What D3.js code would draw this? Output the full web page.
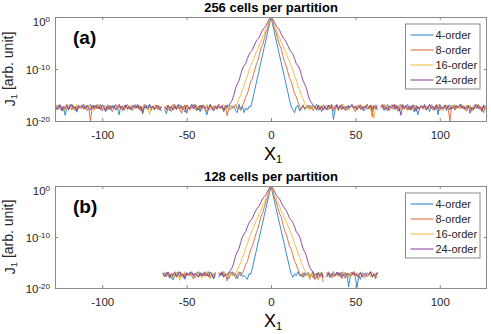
<!DOCTYPE html>
<html>
<head>
<meta charset="utf-8">
<script src="https://cdn.jsdelivr.net/npm/d3@7"></script>
<style>
  body { margin: 0; background: #fff; }
  svg, svg text { font-family: Arial, "Liberation Sans", Helvetica, sans-serif; }
  .axis path.domain { display: none; }
  .axis line { stroke: #8a8a8a; }
  .axis text { fill: #262626; font-size: 11.5px; }
  .frame { fill: none; stroke: #8a8a8a; stroke-width: 1; }
  .series { fill: none; stroke-width: 0.9; stroke-linejoin: round; }
  .legend-box { fill: #fff; stroke: #8a8a8a; stroke-width: 1; }
  .legend text { font-size: 11px; fill: #262626; }
</style>
</head>
<body>
<svg id="chart" width="491" height="334"></svg>
<script>
const seriesNames = ["4-order", "8-order", "16-order", "24-order"];
const seriesColors = ["#1f80c8", "#dc6330", "#edb83a", "#86399a"];
const xTicks = [-100, -50, 0, 50, 100];
const yTickExponents = [-20, -10, 0];
const panelTitles = ["256 cells per partition", "128 cells per partition"];
const panelTags = ["(a)", "(b)"];
const firstCellA = -128;
const firstCellB = -64;

// log10(J1) per cell, panel (a), 256 cells from x = -128
const a4 = [
  -17.0,-17.8,-16.9,-17.5,-18.1,-17.2,-18.9,-17.6,
  -17.4,-16.8,-17.9,-17.1,-17.6,-18.3,-17.0,-17.3,
  -16.9,-17.5,-17.2,-18.0,-17.3,-16.8,-17.7,-17.1,
  -17.7,-17.0,-17.4,-16.8,-17.9,-17.3,-18.2,-16.9,
  -17.2,-17.9,-17.0,-17.6,-16.8,-17.4,-18.8,-17.1,
  -18.0,-17.1,-16.9,-17.7,-17.3,-17.9,-17.0,-17.5,
  -17.3,-16.8,-17.6,-17.1,-18.2,-17.4,-16.9,-17.8,
  -16.8,-17.6,-17.3,-17.9,-17.0,-17.5,-17.2,-18.1,
  null,-17.8,-18.6,-17.5,-18.1,-17.2,-16.8,-17.6,
  -17.4,-16.8,-17.9,-17.1,-17.6,-18.3,-17.0,-17.3,
  -17.7,-17.0,-17.4,-16.8,-17.9,-17.3,-18.2,-16.9,
  -17.2,-17.9,-18.8,-17.6,-16.8,-17.4,-17.8,-17.1,
  -17.3,-16.8,-17.6,-17.1,-18.2,-17.4,-16.9,-17.8,
  -16.9,-17.5,-17.2,-18.0,-18.4,-16.8,-17.7,-17.1,
  -18.4,-17.5,-17.9,-17.2,-17.3,-16.0,-14.5,-13.1,
  -11.6,-10.2,-8.7,-7.3,-5.8,-4.4,-2.9,-1.5,
  0,-1.5,-2.9,-4.4,-5.8,-7.3,-8.7,-10.2,
  -11.6,-13.1,-14.5,-16.0,-17.3,-17.8,-18.4,-17.2,
  -17.0,-18.1,-17.5,-16.9,-17.8,-17.2,-17.6,-17.0,
  -17.7,-17.0,-17.4,-16.8,-17.9,-17.3,-18.2,-16.9,
  -17.2,-17.9,-17.0,-17.6,-16.8,-19.7,-17.8,-17.1,
  -18.0,-17.1,-16.9,-17.7,-17.3,-17.9,-17.0,-17.5,
  -16.8,-17.6,-17.3,-17.9,-17.0,-17.5,-17.2,-18.1,
  -17.3,-16.8,-17.6,-17.1,-18.2,-17.4,-16.9,-17.8,
  null,-17.5,-17.2,-18.0,-17.3,-16.8,-17.7,-17.1,
  -17.0,-17.8,-16.9,-17.5,-18.1,-17.2,-16.8,-17.6,
  -17.4,-16.8,-17.9,-17.1,-17.6,-18.3,-17.0,-18.8,
  -17.7,-17.0,-17.4,-16.8,-17.9,-17.3,-18.2,-16.9,
  -17.2,-17.9,-17.0,-18.8,-16.8,-17.4,-17.8,-17.1,
  -18.0,-17.1,-16.9,-17.7,-17.3,-17.9,-17.0,-17.5,
  -16.8,-17.6,-17.3,-17.9,-17.0,-17.5,-17.2,-18.1,
  -17.3,-16.8,-17.6,-17.1,-17.4,-18.2,-16.9,-17.8
];
const a8 = [
  -17.6,-17.0,-17.8,-16.9,-17.4,-18.1,-17.2,-16.8,
  -17.9,-17.3,-16.8,-17.5,-18.0,-17.1,-17.6,-17.2,
  -17.1,-17.8,-17.3,-16.9,-17.6,-20.0,-17.4,-16.9,
  -17.5,-16.8,-17.7,-17.2,-18.1,-17.0,-17.4,-17.9,
  -17.0,-17.6,-18.2,-17.3,-16.9,-17.8,-17.1,-17.5,
  -17.8,-17.1,-17.4,-16.8,-17.7,-17.3,-18.0,-17.0,
  -16.9,-17.5,-17.0,-18.1,-17.4,-16.8,-17.6,-17.3,
  -17.4,-18.0,-17.2,-17.6,-16.9,-17.9,-17.1,-17.5,
  null,-17.2,-17.9,-17.0,-17.5,-18.2,-17.3,-16.8,
  -17.6,-17.1,-17.8,-18.5,-17.2,-17.7,-16.9,-17.4,
  -17.9,-17.3,-16.8,-17.5,-18.0,-17.1,-17.6,-17.2,
  -17.0,-17.6,-18.2,-17.3,-16.9,-17.8,-17.1,-17.5,
  -17.5,-16.8,-17.7,-17.2,-18.1,-17.0,-19.0,-17.6,
  -17.8,-17.1,-17.4,-16.8,-17.7,-17.3,-18.0,-17.2,
  -16.4,-15.4,-14.8,-13.6,-12.4,-11.8,-10.6,-9.4,
  -8.6,-7.4,-6.0,-5.4,-4.2,-3.0,-2.2,-1.0,
  0,-1.0,-2.2,-3.0,-4.2,-5.4,-6.0,-7.4,
  -8.6,-9.4,-10.6,-11.8,-12.4,-13.6,-14.8,-15.4,
  -16.4,-17.2,-17.8,-17.0,-17.7,-17.3,-16.9,-17.6,
  -17.4,-18.0,-17.2,-17.6,-16.9,-17.9,-17.1,-17.5,
  -17.6,-17.0,-17.8,-16.9,-17.4,-18.1,-17.2,-16.8,
  -17.9,-17.3,-16.8,-17.5,-18.0,-17.1,-17.6,-17.2,
  -17.0,-17.6,-18.2,-17.3,-16.9,-17.8,-17.1,-17.5,
  -17.5,-16.8,-17.7,-17.2,-19.2,-17.0,-17.4,-17.9,
  null,-17.1,-17.4,-16.8,-17.7,-17.3,-18.0,-17.0,
  -16.9,-17.5,-17.0,-18.1,-17.4,-16.8,-17.6,-17.3,
  -17.4,-18.0,-17.2,-17.6,-16.9,-17.9,-17.1,-17.5,
  -17.6,-17.1,-17.8,-17.3,-17.2,-17.7,-16.9,-17.4,
  -17.9,-17.3,-16.8,-17.5,-18.0,-17.1,-17.6,-17.2,
  -17.0,-17.6,-20.0,-17.3,-16.9,-17.8,-17.1,-17.5,
  -17.5,-16.8,-17.7,-17.2,-18.1,-17.0,-17.4,-17.9,
  -17.8,-17.1,-17.4,-16.8,-17.7,-17.3,-18.4,-17.0
];
const a16 = [
  -17.3,-17.9,-17.1,-16.8,-17.6,-17.2,-18.0,-17.4,
  -16.9,-17.4,-17.8,-17.0,-17.5,-16.8,-17.7,-17.2,
  -17.6,-17.1,-17.3,-17.9,-16.9,-17.5,-17.0,-18.1,
  -17.2,-17.7,-16.8,-17.4,-17.9,-17.1,-17.6,-17.0,
  -17.8,-17.0,-17.5,-17.2,-16.8,-17.7,-17.3,-17.9,
  -17.0,-17.6,-17.1,-18.0,-17.4,-16.9,-17.8,-17.3,
  -17.5,-16.9,-17.7,-17.2,-17.9,-17.0,-17.4,-17.6,
  -18.7,-17.2,-17.6,-16.9,-17.5,-17.8,-17.1,-17.4,
  null,-17.7,-17.0,-17.6,-17.2,-17.9,-16.8,-17.5,
  -17.1,-17.5,-17.9,-17.0,-17.4,-16.9,-17.7,-17.2,
  -17.6,-17.1,-17.3,-17.9,-16.9,-17.5,-17.0,-18.0,
  -17.2,-17.7,-16.8,-17.4,-17.9,-17.1,-17.6,-17.0,
  -17.8,-17.0,-17.5,-17.2,-16.8,-17.7,-17.3,-17.9,
  -17.0,-17.6,-17.4,-17.0,-16.6,-15.7,-15.1,-14.0,
  -13.3,-12.1,-11.4,-10.2,-9.5,-8.5,-7.9,-6.9,
  -6.4,-5.4,-4.9,-3.9,-3.3,-2.3,-1.7,-0.7,
  0,-0.7,-1.7,-2.3,-3.3,-3.9,-4.9,-5.4,
  -6.4,-6.9,-7.9,-8.5,-9.5,-10.2,-11.4,-12.1,
  -13.3,-14.0,-15.1,-15.7,-16.6,-17.0,-17.4,-17.9,
  -17.0,-17.6,-17.1,-18.0,-17.4,-16.9,-17.8,-17.3,
  -17.5,-16.9,-17.7,-17.2,-17.9,-17.0,-17.4,-17.6,
  -17.3,-17.9,-17.1,-16.8,-17.6,-17.2,-18.0,-17.4,
  -16.9,-17.4,-17.8,-17.0,-17.5,-16.8,-17.7,-17.2,
  -17.6,-17.1,-17.3,-17.9,-16.9,-19.5,-17.0,-17.4,
  null,-17.7,-16.8,-17.4,-17.9,-17.1,-17.6,-17.0,
  -17.8,-17.0,-17.5,-17.2,-16.8,-17.7,-17.3,-17.9,
  -17.0,-17.6,-17.1,-18.0,-17.4,-16.9,-17.8,-17.3,
  -17.5,-16.9,-17.7,-17.2,-17.9,-17.0,-17.4,-17.6,
  -17.3,-17.9,-17.1,-16.8,-17.6,-17.2,-18.0,-17.4,
  -16.9,-17.4,-17.8,-17.0,-17.5,-16.8,-17.7,-17.2,
  -17.6,-17.1,-17.3,-17.9,-16.9,-17.5,-17.0,-18.1,
  -17.2,-17.7,-16.8,-17.4,-17.9,-17.1,-17.6,-17.3
];
const a24 = [
  -17.1,-17.7,-17.4,-16.9,-17.8,-17.2,-17.6,-17.0,
  -17.8,-17.2,-16.9,-17.6,-17.3,-18.0,-17.1,-17.5,
  -17.4,-16.8,-17.7,-17.1,-17.5,-17.9,-17.0,-17.6,
  -17.0,-17.6,-17.2,-17.8,-16.9,-17.4,-18.1,-17.2,
  -17.7,-17.1,-17.5,-17.0,-17.9,-17.3,-16.8,-17.6,
  -17.2,-17.9,-17.0,-17.6,-17.2,-17.7,-17.4,-16.9,
  -17.6,-17.0,-17.8,-17.3,-18.6,-17.1,-17.5,-17.2,
  -16.9,-17.5,-17.1,-17.7,-17.4,-17.0,-17.8,-17.3,
  null,-17.3,-17.7,-17.0,-17.6,-17.2,-17.9,-17.1,
  -17.8,-17.2,-16.9,-17.6,-17.3,-17.0,-18.5,-17.4,
  -17.4,-16.8,-17.7,-17.1,-17.5,-17.9,-17.0,-17.6,
  -17.0,-17.6,-17.2,-17.8,-16.9,-17.4,-18.1,-17.2,
  -17.7,-17.1,-17.5,-17.0,-17.9,-17.3,-17.3,-17.0,
  -16.5,-16.0,-15.0,-13.7,-12.9,-12.3,-11.1,-10.0,
  -9.4,-9.0,-8.0,-7.2,-6.7,-6.3,-5.5,-4.8,
  -4.3,-3.9,-3.2,-2.5,-2.1,-1.7,-1.0,-0.4,
  0,-0.4,-1.0,-1.7,-2.1,-2.5,-3.2,-3.9,
  -4.3,-4.8,-5.5,-6.3,-6.7,-7.2,-8.0,-9.0,
  -9.4,-10.0,-11.1,-12.3,-12.9,-13.7,-15.0,-16.0,
  -16.5,-17.0,-17.3,-17.8,-17.1,-17.6,-17.2,-17.9,
  -17.2,-17.9,-17.0,-17.6,-17.2,-17.7,-17.4,-16.9,
  -17.6,-17.0,-17.8,-17.3,-17.5,-17.1,-17.5,-17.2,
  -16.9,-17.5,-17.1,-17.7,-17.4,-17.0,-17.8,-17.3,
  -17.1,-17.7,-17.4,-16.9,-17.8,-17.2,-17.6,-17.0,
  null,-17.2,-16.9,-17.6,-17.3,-18.0,-17.1,-17.5,
  -17.4,-16.8,-17.7,-17.1,-17.5,-18.9,-17.0,-17.6,
  -17.0,-17.6,-17.2,-17.8,-16.9,-17.4,-18.1,-17.2,
  -17.7,-17.1,-17.5,-17.0,-17.9,-17.3,-16.8,-17.6,
  -17.2,-17.9,-17.0,-17.6,-17.2,-17.7,-17.4,-16.9,
  -17.6,-17.0,-17.8,-17.3,-17.5,-17.1,-17.5,-17.2,
  -16.9,-17.5,-17.1,-17.7,-17.4,-17.0,-18.5,-17.3,
  -17.8,-17.2,-16.9,-17.6,-17.3,-18.0,-17.1,-17.5
];

// log10(J1) per cell, panel (b), 128 cells from x = -64
const b4 = [
  -17.0,-17.8,-16.9,-17.5,-18.1,-17.2,-18.4,-17.6,
  -17.4,-16.8,-17.9,-17.1,-17.6,-18.3,-17.0,-17.3,
  -16.9,-17.5,-17.2,-18.0,-17.3,-16.8,-17.7,-17.1,
  -17.7,-17.0,-17.4,-16.8,-17.9,-17.3,-18.2,-16.9,
  null,-17.9,-17.0,-17.6,-16.8,-17.4,-17.8,-18.2,
  -17.3,-16.8,-17.6,-17.1,-18.2,-17.4,-16.9,-17.8,
  -17.5,-17.9,-18.3,-17.2,-17.3,-16.0,-14.5,-13.1,
  -11.6,-10.2,-8.7,-7.3,-5.8,-4.4,-2.9,-1.5,
  0,-1.5,-2.9,-4.4,-5.8,-7.3,-8.7,-10.2,
  -11.6,-13.1,-14.5,-16.0,-17.3,-17.9,-17.2,-17.6,
  -16.8,-17.6,-17.3,-17.9,-17.0,-17.5,-17.2,-18.1,
  -17.3,-16.8,-17.6,-17.1,-18.2,-17.4,-16.9,-17.8,
  null,-17.5,-17.2,-18.0,-17.3,-16.8,-17.7,-17.1,
  -17.0,-17.8,-16.9,-17.5,-18.1,-17.2,-19.8,-17.6,
  -17.4,-16.8,-17.9,-19.9,-17.6,-18.3,-17.0,-17.3,
  -17.7,-17.0,-17.4,-16.8,-17.9,-17.3,-18.2,-16.9
];
const b8 = [
  -17.6,-17.0,-17.8,-16.9,-17.4,-18.1,-17.2,-16.8,
  -17.9,-17.3,-16.8,-17.5,-18.0,-17.1,-17.6,-17.2,
  -17.0,-17.6,-18.2,-17.3,-16.9,-17.8,-17.1,-17.5,
  -17.5,-16.8,-17.7,-17.2,-18.1,-17.0,-17.4,-17.9,
  null,-17.1,-17.4,-16.8,-17.7,-17.3,-18.6,-17.0,
  -16.9,-17.5,-17.0,-18.1,-17.4,-16.8,-17.6,-17.2,
  -16.4,-15.4,-14.8,-13.6,-12.4,-11.8,-10.6,-9.4,
  -8.6,-7.4,-6.0,-5.4,-4.2,-3.0,-2.2,-1.0,
  0,-1.0,-2.2,-3.0,-4.2,-5.4,-6.0,-7.4,
  -8.6,-9.4,-10.6,-11.8,-12.4,-13.6,-14.8,-15.4,
  -16.4,-17.2,-17.8,-17.0,-17.7,-17.3,-16.9,-17.6,
  -17.4,-18.0,-17.2,-17.6,-16.9,-17.9,-17.1,-18.8,
  null,-17.3,-16.8,-17.5,-18.0,-17.1,-17.6,-17.2,
  -17.0,-17.6,-18.2,-17.3,-16.9,-17.8,-17.1,-17.5,
  -17.5,-16.8,-17.7,-17.2,-18.1,-17.0,-17.4,-17.9,
  -17.8,-17.1,-17.4,-16.8,-17.7,-17.3,-18.0,-17.0
];
const b16 = [
  -17.3,-17.9,-17.1,-16.8,-17.6,-17.2,-18.0,-17.4,
  -16.9,-17.4,-18.5,-17.0,-17.5,-16.8,-17.7,-17.2,
  -17.6,-17.1,-17.3,-17.9,-16.9,-17.5,-17.0,-18.1,
  -17.2,-17.7,-16.8,-17.4,-17.9,-17.1,-17.6,-17.0,
  null,-17.0,-17.5,-17.2,-16.8,-17.7,-17.3,-17.9,
  -17.0,-17.6,-17.4,-17.0,-16.6,-15.7,-15.1,-14.0,
  -13.3,-12.1,-11.4,-10.2,-9.5,-8.5,-7.9,-6.9,
  -6.4,-5.4,-4.9,-3.9,-3.3,-2.3,-1.7,-0.7,
  0,-0.7,-1.7,-2.3,-3.3,-3.9,-4.9,-5.4,
  -6.4,-6.9,-7.9,-8.5,-9.5,-10.2,-11.4,-12.1,
  -13.3,-14.0,-15.1,-15.7,-16.6,-17.0,-17.4,-18.4,
  -17.0,-17.6,-17.1,-18.0,-18.5,-16.9,-17.8,-17.3,
  null,-16.9,-17.7,-17.2,-17.9,-17.0,-17.4,-17.6,
  -17.3,-17.9,-17.1,-16.8,-17.6,-17.2,-18.0,-17.4,
  -16.9,-17.4,-17.8,-17.0,-17.5,-16.8,-17.7,-17.2,
  -17.6,-17.1,-17.3,-17.9,-16.9,-17.5,-17.0,-18.1
];
const b24 = [
  -17.1,-17.7,-17.4,-16.9,-17.8,-17.2,-17.6,-17.0,
  -17.8,-17.2,-16.9,-17.6,-17.3,-18.0,-17.1,-17.5,
  -17.4,-16.8,-17.7,-17.1,-17.5,-17.9,-17.0,-17.6,
  -17.0,-17.6,-17.2,-17.8,-16.9,-17.4,-18.1,-17.2,
  null,-17.1,-17.5,-17.0,-17.9,-17.3,-17.3,-17.0,
  -16.5,-16.0,-15.0,-13.7,-12.9,-12.3,-11.1,-10.0,
  -9.4,-9.0,-8.0,-7.2,-6.7,-6.3,-5.5,-4.8,
  -4.3,-3.9,-3.2,-2.5,-2.1,-1.7,-1.0,-0.4,
  0,-0.4,-1.0,-1.7,-2.1,-2.5,-3.2,-3.9,
  -4.3,-4.8,-5.5,-6.3,-6.7,-7.2,-8.0,-9.0,
  -9.4,-10.0,-11.1,-12.3,-12.9,-13.7,-15.0,-16.0,
  -16.5,-17.0,-18.3,-17.8,-17.1,-17.6,-17.2,-17.9,
  null,-17.9,-17.0,-17.6,-17.2,-17.7,-17.4,-16.9,
  -17.6,-17.0,-17.8,-17.3,-17.5,-17.1,-17.5,-17.2,
  -16.9,-17.5,-17.1,-17.7,-17.4,-17.0,-17.8,-17.3,
  -17.1,-17.7,-17.4,-16.9,-17.8,-17.2,-17.6,-17.0
];

const svg = d3.select("#chart");
const plotLeft = 55;
const plotRight = 487;

const panels = [
  { top: 17, bottom: 121, title: panelTitles[0], tag: panelTags[0], first: firstCellA, series: [a4, a8, a16, a24] },
  { top: 186, bottom: 288, title: panelTitles[1], tag: panelTags[1], first: firstCellB, series: [b4, b8, b16, b24] }
];

panels.forEach((p, pi) => drawPanel(p, pi));

function drawPanel(p, pi) {
  const g = svg.append("g");
  const xScale = d3.scaleLinear().domain([-128, 128]).range([plotLeft, plotRight]);
  const yScale = d3.scaleLog().domain([1e-20, 1]).range([p.bottom, p.top]);
  const yTickValues = yTickExponents.map((e) => Math.pow(10, e));

  const clipId = "clip" + pi;
  svg.append("clipPath").attr("id", clipId)
    .append("rect")
    .attr("x", plotLeft).attr("y", p.top - 1)
    .attr("width", plotRight - plotLeft).attr("height", p.bottom - p.top + 2);

  // lines, drawn in legend order so 24-order ends on top
  const line = d3.line()
    .defined((d) => d.v != null)
    .x((d) => xScale(d.x))
    .y((d) => yScale(Math.pow(10, d.v)));

  p.series.forEach((vals, si) => {
    const pts = vals.map((v, i) => ({ x: p.first + i, v: v }));
    g.append("path")
      .datum(pts)
      .attr("class", "series")
      .attr("clip-path", `url(#${clipId})`)
      .attr("stroke", seriesColors[si])
      .attr("d", line);
  });

  // axes with inward ticks on all four sides (plain hyphen minus like the original)
  const axes = [
    [d3.axisBottom(xScale).tickValues(xTicks).tickFormat((d) => String(d)).tickPadding(10), `translate(0,${p.bottom})`],
    [d3.axisTop(xScale).tickValues(xTicks).tickFormat(""), `translate(0,${p.top})`],
    [d3.axisLeft(yScale).tickValues(yTickValues).tickFormat(""), `translate(${plotLeft},0)`],
    [d3.axisRight(yScale).tickValues(yTickValues).tickFormat(""), `translate(${plotRight},0)`]
  ];
  axes.forEach(([ax, tr]) => {
    g.append("g").attr("class", "axis")
      .attr("transform", tr)
      .call(ax.tickSizeInner(-3).tickSizeOuter(0))
      .attr("font-family", null)
      .attr("font-size", null);
  });

  g.append("rect")
    .attr("class", "frame")
    .attr("x", plotLeft + 0.5)
    .attr("y", p.top + 0.5)
    .attr("width", plotRight - plotLeft - 1)
    .attr("height", p.bottom - p.top);

  // y tick labels 10^n
  yTickExponents.forEach((e) => {
    const yPos = yScale(Math.pow(10, e));
    const t = g.append("text")
      .attr("x", 50)
      .attr("y", e === 0 ? yPos + 8.5 : yPos + 5)
      .attr("text-anchor", "end")
      .attr("fill", "#262626")
      .style("font-size", "11.5px");
    t.append("tspan").text("10");
    t.append("tspan").attr("dy", "-0.45em").style("font-size", "8px").text(String(e));
  });

  // y label
  const yl = g.append("text")
    .attr("transform", `translate(14.5,${(p.top + p.bottom) / 2}) rotate(-90)`)
    .attr("text-anchor", "middle")
    .attr("fill", "#262626")
    .style("font-size", "14px");
  yl.append("tspan").text("J");
  yl.append("tspan").attr("dy", "0.3em").style("font-size", "9.5px").text("1");
  yl.append("tspan").attr("dy", "-0.3em").text(" [arb. unit]");

  // x label
  const xl = g.append("text")
    .attr("x", xScale(0) + 2)
    .attr("y", p.bottom + 39)
    .attr("text-anchor", "middle")
    .attr("fill", "#000")
    .style("font-size", "18px");
  xl.append("tspan").text("X");
  xl.append("tspan").attr("dy", "0.3em").style("font-size", "11px").text("1");

  // title
  g.append("text")
    .attr("x", xScale(0))
    .attr("y", p.top - 5.5)
    .attr("text-anchor", "middle")
    .attr("fill", "#000")
    .style("font-size", "13px")
    .style("font-weight", "bold")
    .text(p.title);

  // panel tag
  g.append("text")
    .attr("x", 73)
    .attr("y", p.top + 27)
    .attr("fill", "#000")
    .style("font-size", "19px")
    .style("font-weight", "bold")
    .text(p.tag);

  // legend
  const lg = g.append("g").attr("class", "legend")
    .attr("transform", `translate(405.5,${p.top + 7})`);
  lg.append("rect").attr("class", "legend-box")
    .attr("width", 74.5).attr("height", 65);
  seriesNames.forEach((name, si) => {
    const ly = 11 + si * 15;
    lg.append("line")
      .attr("x1", 5).attr("x2", 28)
      .attr("y1", ly).attr("y2", ly)
      .attr("stroke", seriesColors[si]);
    lg.append("text")
      .attr("x", 30).attr("y", ly)
      .attr("dy", "0.35em")
      .text(name);
  });
}
</script>
</body>
</html>
